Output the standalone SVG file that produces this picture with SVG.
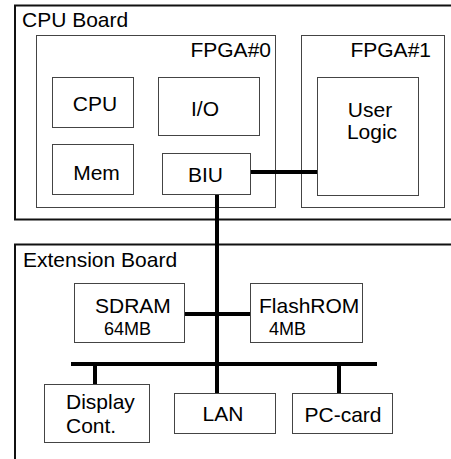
<svg xmlns="http://www.w3.org/2000/svg" width="451" height="459" viewBox="0 0 451 459">
<style>
text{font-family:"Liberation Sans",Arial,sans-serif;font-size:21px;fill:#000}
.s{font-size:18px}
.board{fill:none;stroke:#111;stroke-width:2}
.box{fill:#fff;stroke:#444;stroke-width:1}
.wire{stroke:#000;stroke-width:4;fill:none}
</style>
<rect width="451" height="459" fill="#fff"/>
<g id="cpu-board">
<rect class="board" x="15" y="5.5" width="460" height="214"/>
<text x="22" y="27">CPU Board</text>
</g>
<g id="ext-board">
<rect class="board" x="15" y="244.5" width="460" height="250"/>
<text x="23" y="267">Extension Board</text>
</g>
<g id="fpga0">
<rect class="box" x="36.5" y="35.5" width="239" height="172"/>
<text x="271" y="57" text-anchor="end">FPGA#0</text>
</g>
<g id="fpga1">
<rect class="box" x="301.5" y="35.5" width="143" height="172"/>
<text x="431" y="57" text-anchor="end">FPGA#1</text>
</g>
<g id="cpu">
<rect class="box" x="52.5" y="77.5" width="81" height="50"/>
<text x="95" y="111" text-anchor="middle">CPU</text>
</g>
<g id="io">
<rect class="box" x="158.5" y="77.5" width="101" height="58"/>
<text x="205" y="116" text-anchor="middle">I/O</text>
</g>
<g id="mem">
<rect class="box" x="52.5" y="144.5" width="81" height="50"/>
<text x="96.5" y="180" text-anchor="middle">Mem</text>
</g>
<g id="biu">
<rect class="box" x="162.5" y="153.5" width="88" height="41"/>
<text x="205.5" y="182" text-anchor="middle">BIU</text>
</g>
<g id="user-logic">
<rect class="box" x="317.5" y="77.5" width="101" height="118"/>
<text x="370" y="117" text-anchor="middle">User</text>
<text x="372" y="139" text-anchor="middle">Logic</text>
</g>
<g id="sdram">
<rect class="box" x="74.5" y="283.5" width="110" height="59"/>
<text x="95" y="313">SDRAM</text>
<text class="s" x="104" y="335">64MB</text>
</g>
<g id="flashrom">
<rect class="box" x="250.5" y="283.5" width="112" height="59"/>
<text x="259" y="313">FlashROM</text>
<text class="s" x="269" y="335">4MB</text>
</g>
<g id="display">
<rect class="box" x="44.5" y="384.5" width="105" height="58"/>
<text x="66" y="409">Display</text>
<text x="66" y="433">Cont.</text>
</g>
<g id="lan">
<rect class="box" x="174.5" y="393.5" width="101" height="40"/>
<text x="223" y="421" text-anchor="middle">LAN</text>
</g>
<g id="pccard">
<rect class="box" x="292.5" y="393.5" width="100" height="40"/>
<text x="343" y="422" text-anchor="middle">PC-card</text>
</g>
<g id="connectors">
<line class="wire" x1="251" y1="172" x2="317" y2="172"/>
<line class="wire" x1="217" y1="195" x2="217" y2="393"/>
<line class="wire" x1="185" y1="314" x2="250" y2="314"/>
<line class="wire" x1="71" y1="364" x2="377" y2="364"/>
<line class="wire" x1="95" y1="364" x2="95" y2="384"/>
<line class="wire" x1="339" y1="364" x2="339" y2="393"/>
</g>
</svg>
